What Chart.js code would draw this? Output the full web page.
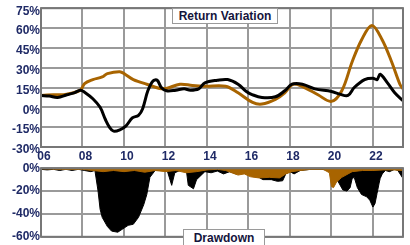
<!DOCTYPE html>
<html>
<head>
<meta charset="utf-8">
<script src="https://cdn.jsdelivr.net/npm/chart.js@4.4.1/dist/chart.umd.min.js"></script>
<style>
  html, body { margin: 0; padding: 0; background: #fff; width: 410px; height: 245px; overflow: hidden; }
  #wrap { position: relative; width: 410px; height: 245px; }
  canvas { position: absolute; left: 0; }
  #topChart { top: 0; }
  #botChart { top: 160px; }
  .tbox { position: absolute; background: #fff; border: 1px solid #9a9a9a; box-sizing: border-box;
          font: bold 12px "Liberation Sans", Arial, sans-serif; color: #14143c; text-align: center; }
</style>
</head>
<body>
<div id="wrap">
  <canvas id="topChart" width="410" height="160"></canvas>
  <canvas id="botChart" width="410" height="85"></canvas>
  <div class="tbox" style="left:172px;top:8px;width:106px;height:16px;line-height:14px;">Return Variation</div>
  <div class="tbox" style="left:183px;top:229px;width:82px;height:20px;line-height:16px;">Drawdown</div>
</div>
<script>
  // x axis ticks (years)
  const xTickYears  = [2006, 2008, 2010, 2012, 2014, 2016, 2018, 2020, 2022];
  const xTickLabels = ["06", "08", "10", "12", "14", "16", "18", "20", "22"];
  const xMin = 2006, xMax = 2023.45;

  const rvTicks = [-30, -15, 0, 15, 30, 45, 60, 75];
  const ddTicks = [-60, -40, -20, 0];

  // Return variation, black series (%)
  const rvBlackYears = [2006.0, 2006.4, 2006.8, 2007.25, 2007.6, 2007.9, 2008.1, 2008.5, 2008.85, 2009.1, 2009.3, 2009.5,
    2009.8, 2010.1, 2010.4, 2010.7, 2010.9, 2011.15, 2011.4, 2011.6, 2011.8, 2012.05, 2012.5, 2012.9, 2013.2, 2013.6,
    2013.9, 2014.5, 2015.0, 2015.5, 2015.9, 2016.2, 2016.65, 2017.3, 2017.75, 2018.1, 2018.6, 2019.2, 2020.0, 2020.4,
    2020.8, 2021.1, 2021.6, 2022.0, 2022.2, 2022.35, 2022.7, 2023.05, 2023.45];
  const rvBlack = [9, 8.5, 7.5, 9.5, 11, 13, 11.5, 6.5, 0, -9, -15, -18,
    -17, -14, -8, -6, -1, 12.5, 20, 20.5, 15, 12.5, 13, 14, 13, 14,
    18.5, 20.5, 21, 17.5, 12, 9.5, 7.5, 8, 12.5, 17.5, 17.5, 14, 12, 10,
    9, 15, 21, 22, 21, 25, 18.5, 11, 5];

  // Return variation, orange series (%)
  const rvOrangeYears = [2006.0, 2006.6, 2007.25, 2007.9, 2008.1, 2008.5, 2008.95, 2009.2, 2009.8, 2010.05, 2010.45,
    2011.1, 2011.9, 2012.7, 2013.3, 2013.9, 2014.9, 2015.5, 2016.2, 2016.65, 2017.3, 2017.75, 2018.15, 2018.7, 2019.35,
    2020.0, 2020.5, 2021.0, 2021.45, 2021.95, 2022.45, 2022.9, 2023.3, 2023.45];
  const rvOrange = [9, 9.5, 10, 13, 18, 21, 23, 25.5, 27, 25, 21,
    17.5, 14, 17.5, 16.5, 16, 16, 11, 3.7, 2.5, 6, 11, 17.5, 15, 9.5,
    4.5, 12.5, 34.5, 51, 62, 51, 34.5, 17.5, 14];

  // Drawdown, black series (%)
  const ddBlackYears = [2006.0, 2006.3, 2006.6, 2006.9, 2007.2, 2007.5, 2007.8, 2008.1, 2008.4, 2008.6, 2008.75, 2008.85,
    2008.95, 2009.2, 2009.4, 2009.7, 2009.95, 2010.2, 2010.45, 2010.7, 2010.95, 2011.1, 2011.25, 2011.5, 2011.8, 2012.1,
    2012.3, 2012.45, 2012.7, 2013.0, 2013.1, 2013.35, 2013.5, 2013.9, 2014.2, 2014.5, 2014.8, 2015.1, 2015.4, 2015.7,
    2016.0, 2016.4, 2016.7, 2017.1, 2017.4, 2017.65, 2017.8, 2018.0, 2018.2, 2018.5, 2019.0, 2019.5, 2020.0, 2020.3,
    2020.55, 2020.75, 2020.9, 2021.0, 2021.1, 2021.25, 2021.45, 2021.7, 2021.85, 2022.0, 2022.1, 2022.2, 2022.3, 2022.35,
    2022.45, 2022.6, 2022.8, 2023.05, 2023.2, 2023.45];
  const ddBlack = [-1, -1.5, -1, -2, -1, -2, -1, -2, -3, -2, -20, -36,
    -43, -51, -55, -56, -53, -50, -49, -43, -32, -23, -8, -2, -1.5, -3,
    -15, -4, -2, -1, -15, -18, -10, -3, -4, -2.5, -5, -3, -5, -3,
    -4, -7, -10, -10, -11.5, -11, -5, -3, -5, -2, -1, -1, -2, -11,
    -19, -20, -17, -9, -8, -17, -23, -25, -28, -34, -31, -22, -13, -9,
    -5, -2, -3, -1, -2, -9];

  // Drawdown, orange series (%)
  const ddOrangeYears = [2006.0, 2007.0, 2008.0, 2008.5, 2009.0, 2009.5, 2010.0, 2010.5, 2011.0, 2011.5, 2012.0, 2012.5,
    2013.0, 2013.5, 2014.0, 2014.5, 2014.9, 2015.2, 2015.5, 2015.8, 2016.1, 2016.5, 2017.0, 2017.5, 2017.8, 2018.1,
    2018.5, 2019.0, 2019.6, 2019.9, 2020.0, 2020.1, 2020.25, 2020.5, 2020.8, 2021.0, 2021.5, 2022.0, 2022.5, 2023.0, 2023.45];
  const ddOrange = [-0.5, -1, -1, -2, -3, -2, -3, -2, -3.5, -2, -3, -2,
    -4, -3, -1.5, -1, -2, -4, -6, -5, -7.5, -8.5, -8, -8.5, -5, -3,
    -2, -1, -1, -4, -16, -17, -12, -8, -5, -3, -2, -2, -1.5, -1.5, -2];

  const ORANGE = "#a86400";
  const LABEL = "#1f2a66";
  const GRID = "#9a9a9a";
  const font = { family: "'Liberation Sans', Arial, sans-serif", size: 12, weight: "bold" };

  const pts = (xs, ys) => xs.map((x, i) => ({ x, y: ys[i] }));

  // plot frame round the chart area
  const frame = {
    id: "frame",
    afterDatasetsDraw(c) {
      const a = c.chartArea, ctx = c.ctx;
      ctx.save();
      ctx.strokeStyle = "#777";
      ctx.lineWidth = 2;
      ctx.strokeRect(a.left, a.top, a.right - a.left, a.bottom - a.top);
      ctx.restore();
    }
  };

  function xScale(showLabels) {
    return {
      type: "linear", min: xMin, max: xMax,
      afterBuildTicks: s => { s.ticks = xTickYears.map(v => ({ value: v })); },
      ticks: {
        display: showLabels, color: LABEL, font, padding: 2, labelOffset: 3,
        maxRotation: 0, autoSkip: false,
        callback: v => xTickLabels[xTickYears.indexOf(v)]
      },
      grid: { color: GRID, lineWidth: 2, drawTicks: false },
      border: { display: false },
      afterFit: s => { s.height = showLabels ? 13 : 0; }
    };
  }

  function yScale(min, max, ticks, offset) {
    return {
      min, max,
      afterBuildTicks: s => { s.ticks = ticks.map(v => ({ value: v })); },
      ticks: { color: LABEL, font, padding: 1, labelOffset: offset, callback: v => v + "%" },
      grid: { color: GRID, lineWidth: 2, drawTicks: false },
      border: { display: false },
      afterFit: s => { s.width = 41; }
    };
  }

  const common = {
    responsive: false,
    animation: false,
    devicePixelRatio: 1,
    plugins: { legend: { display: false }, tooltip: { enabled: false } },
    elements: { point: { radius: 0 } }
  };

  new Chart(document.getElementById("topChart"), {
    type: "line",
    data: {
      datasets: [
        { data: pts(rvBlackYears, rvBlack), borderColor: "#000", borderWidth: 3, tension: 0.35, fill: false },
        { data: pts(rvOrangeYears, rvOrange), borderColor: ORANGE, borderWidth: 3, tension: 0.35, fill: false }
      ]
    },
    options: {
      ...common,
      layout: { padding: { top: 5, right: 7, left: 0, bottom: 0 } },
      scales: { x: xScale(true), y: yScale(-30, 75, rvTicks, 3) }
    },
    plugins: [frame]
  });

  new Chart(document.getElementById("botChart"), {
    type: "line",
    data: {
      datasets: [
        { data: pts(ddOrangeYears, ddOrange), borderColor: ORANGE, backgroundColor: ORANGE, borderWidth: 1, tension: 0, fill: "origin" },
        { data: pts(ddBlackYears, ddBlack), borderColor: "#000", backgroundColor: "#000", borderWidth: 1, tension: 0, fill: "origin" }
      ]
    },
    options: {
      ...common,
      layout: { padding: { top: 3, right: 7, left: 0, bottom: 3 } },
      scales: { x: xScale(false), y: yScale(-60, 0, ddTicks, 0) }
    },
    plugins: [frame]
  });
</script>
</body>
</html>
